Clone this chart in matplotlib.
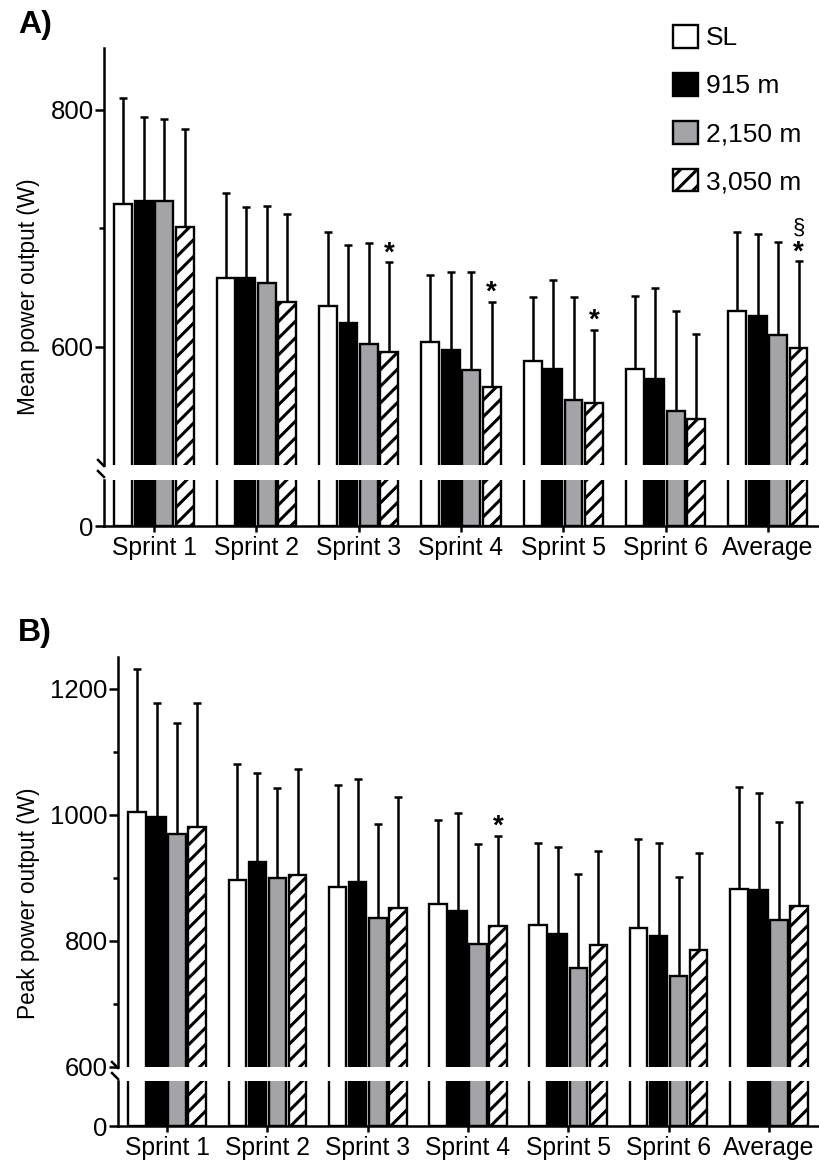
import matplotlib
matplotlib.use("Agg")
import matplotlib.pyplot as plt
import numpy as np
from matplotlib.patches import Patch
from matplotlib.lines import Line2D

plt.rcParams['font.family'] = ['Liberation Sans', 'DejaVu Sans']
plt.rcParams['hatch.linewidth'] = 2.2

# ---------------- data ----------------
categories = ["Sprint 1", "Sprint 2", "Sprint 3", "Sprint 4", "Sprint 5", "Sprint 6", "Average"]
series = ["SL", "915 m", "2,150 m", "3,050 m"]

mean_A_SL = [720, 658, 634, 604, 588, 581, 630]
mean_A_915 = [723, 658, 620, 597, 581, 573, 626]
mean_A_2150 = [723, 654, 602, 580, 555, 546, 610]
mean_A_3050 = [701, 638, 595, 566, 552, 539, 599]
sd_A_SL = [90, 72, 63, 56, 54, 62, 67]
sd_A_915 = [71, 60, 66, 66, 75, 76, 69]
sd_A_2150 = [69, 65, 85, 83, 87, 84, 78]
sd_A_3050 = [83, 74, 76, 72, 62, 72, 73]

mean_B_SL = [1004, 897, 886, 859, 825, 821, 882]
mean_B_915 = [996, 925, 894, 848, 811, 808, 880]
mean_B_2150 = [969, 900, 836, 795, 757, 745, 833]
mean_B_3050 = [980, 904, 852, 824, 794, 785, 855]
sd_B_SL = [227, 184, 161, 133, 130, 141, 162]
sd_B_915 = [181, 141, 163, 154, 138, 147, 154]
sd_B_2150 = [177, 142, 150, 159, 149, 157, 156]
sd_B_3050 = [197, 168, 176, 143, 149, 155, 165]

# significance marks: (category index, series index)
stars_A = [(2, 3), (3, 3), (4, 3), (6, 3)]
section_A = [(6, 3)]
stars_B = [(3, 3)]

# ---------------- styling ----------------
W, H = 819, 1162
face = ["white", "black", "#a3a3a8", "white"]
hatches = [None, None, None, "//"]
offsets = [-0.3, -0.1, 0.1, 0.3]
bar_w = 0.175
LW = 1.8

fig = plt.figure(figsize=(W / 100, H / 100), dpi=100)

def fx(px):
    return px / W

def fy(py):
    return 1 - py / H

def add_axes(left, right, top, bottom):
    return fig.add_axes([fx(left), fy(bottom), fx(right) - fx(left), fy(top) - fy(bottom)])

def draw_panel(ax_up, ax_lo, means, sds, ylim_up, ylim_lo, major, minor, stars, sections, xpad):
    x = np.arange(len(categories))
    for ax in (ax_up, ax_lo):
        for i in range(4):
            ax.bar(x + offsets[i], means[i], width=bar_w, color=face[i], edgecolor="black",
                   linewidth=1.7, hatch=hatches[i], zorder=3)
        ax.set_xlim(-0.49, 6.5)
        ax.spines['top'].set_visible(False)
        ax.spines['right'].set_visible(False)
        ax.spines['left'].set_linewidth(LW)
        ax.spines['bottom'].set_linewidth(LW)
        ax.tick_params(axis='y', which='major', length=6.5, width=LW, labelsize=18.5, pad=1)
        ax.tick_params(axis='y', which='minor', length=3.5, width=LW)
        ax.tick_params(axis='x', length=4.5, width=LW, labelsize=17.8, pad=xpad)
    for i in range(4):
        ax_up.errorbar(x + offsets[i], means[i], yerr=[np.zeros(len(x)), sds[i]], fmt='none',
                       ecolor='black', elinewidth=LW, capsize=2.8, capthick=LW, zorder=2)
    ax_up.set_ylim(*ylim_up)
    ax_up.set_yticks(major)
    ax_up.set_yticks(minor, minor=True)
    ax_up.spines['bottom'].set_visible(False)
    ax_up.set_xticks([])
    ax_lo.set_ylim(*ylim_lo)
    ax_lo.set_yticks([0])
    ax_lo.set_xticks(x)
    ax_lo.set_xticklabels(categories)
    for (c, s) in stars:
        ax_up.annotate("*", (x[c] + offsets[s], means[s][c] + sds[s][c]), xytext=(0, -3),
                       textcoords="offset points", ha="center", va="bottom",
                       fontsize=20, fontweight="bold")
    for (c, s) in sections:
        ax_up.annotate("§", (x[c] + offsets[s], means[s][c] + sds[s][c]), xytext=(0, 16),
                       textcoords="offset points", ha="center", va="bottom", fontsize=16)

# Panel A
axA_up = add_axes(104, 819, 48, 465)
axA_lo = add_axes(104, 819, 480, 526)
draw_panel(axA_up, axA_lo,
           [mean_A_SL, mean_A_915, mean_A_2150, mean_A_3050],
           [sd_A_SL, sd_A_915, sd_A_2150, sd_A_3050],
           (500, 852), (0, 38.8), [600, 800], [700], stars_A, section_A, 2.5)

# Panel B
axB_up = add_axes(118, 819, 657, 1067)
axB_lo = add_axes(118, 819, 1081, 1126)
draw_panel(axB_up, axB_lo,
           [mean_B_SL, mean_B_915, mean_B_2150, mean_B_3050],
           [sd_B_SL, sd_B_915, sd_B_2150, sd_B_3050],
           (600, 1250), (0, 71), [600, 800, 1000, 1200], [700, 900, 1100], stars_B, [], 3)

# break marks on y axis
def break_marks(xs, y_up, y_lo):
    for yy in (y_up, y_lo):
        fig.add_artist(Line2D([fx(xs - 6), fx(xs)], [fy(yy - 4), fy(yy + 2)],
                              color="black", linewidth=LW, transform=fig.transFigure))

break_marks(104, 464, 475)
break_marks(118, 1066, 1077)

# y labels
fig.text(fx(28), fy(297), "Mean power output (W)", rotation=90, ha="center", va="center", fontsize=16.3)
fig.text(fx(28), fy(903), "Peak power output (W)", rotation=90, ha="center", va="center", fontsize=16.3)

# panel labels
fig.text(fx(18), fy(25), "A)", fontsize=23, fontweight="bold", ha="left", va="center")
fig.text(fx(18), fy(633), "B)", fontsize=23, fontweight="bold", ha="left", va="center")

# legend
handles = [Patch(facecolor=face[i], edgecolor="black", linewidth=1.7, hatch=hatches[i]) for i in range(4)]
fig.legend(handles, series, loc="upper left", bbox_to_anchor=(fx(673), fy(25)), frameon=False,
           borderpad=0, borderaxespad=0, handlelength=0.95, handleheight=0.95,
           handletextpad=0.3, labelspacing=0.85, fontsize=19)

fig.savefig("out.png", dpi=100)
